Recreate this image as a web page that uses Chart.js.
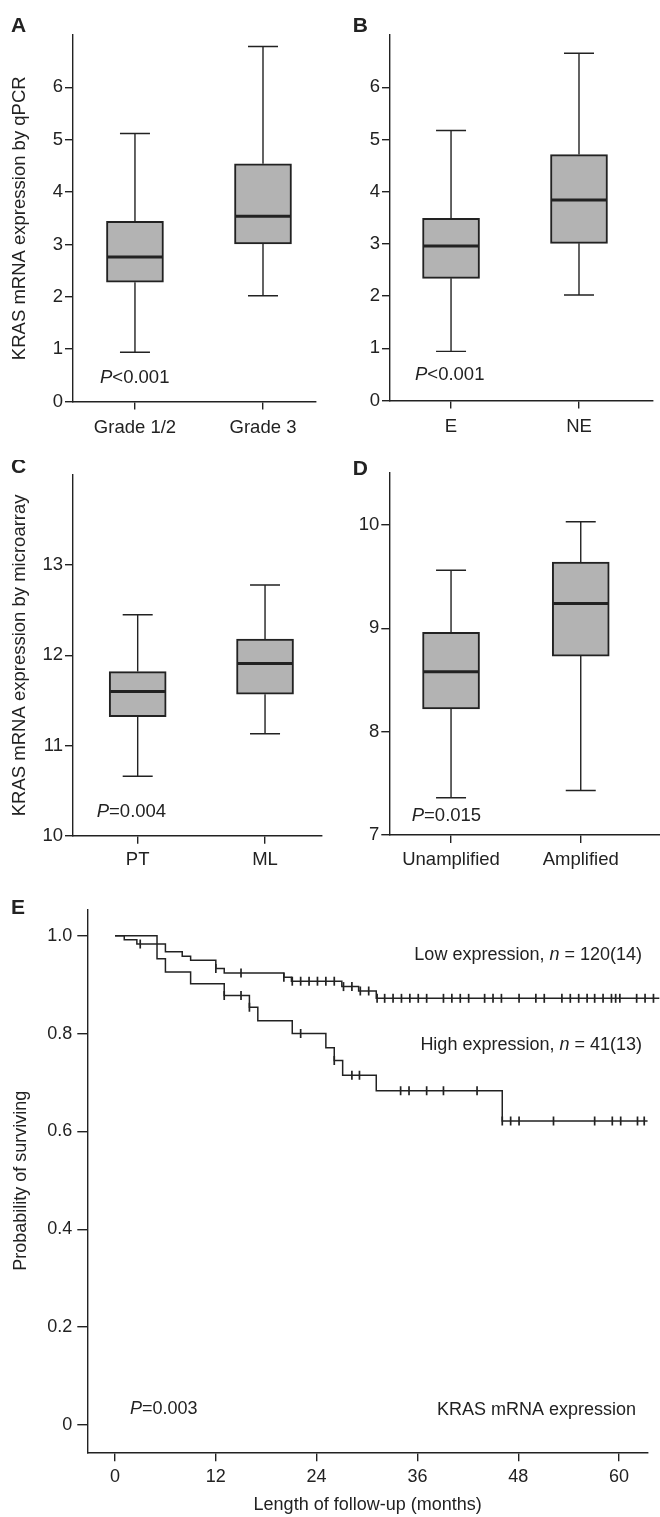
<!DOCTYPE html>
<html>
<head>
<meta charset="utf-8">
<title>KRAS mRNA expression</title>
<script src="https://cdn.jsdelivr.net/npm/chart.js@4.4.1/dist/chart.umd.min.js"></script>
<style>
  body { margin: 0; background: #fff; }
  #page { position: relative; width: 660px; height: 1517px; overflow: hidden; }
  canvas { position: absolute; }
</style>
</head>
<body>
<div id="page">
  <canvas id="chartA" width="330" height="460" style="left:0;top:0"></canvas>
  <canvas id="chartB" width="330" height="460" style="left:330px;top:0"></canvas>
  <canvas id="chartC" width="330" height="420" style="left:0;top:460px"></canvas>
  <canvas id="chartD" width="330" height="420" style="left:330px;top:460px"></canvas>
  <canvas id="chartE" width="660" height="637" style="left:0;top:880px"></canvas>
</div>
<script>
// ---- data ----
// A: qPCR by grade
var gradeCats = ['Grade 1/2', 'Grade 3'];
var gradeLo = [0.94, 2.02];
var gradeQ1 = [2.28, 3.01];
var gradeMed = [2.76, 3.54];
var gradeQ3 = [3.44, 4.54];
var gradeHi = [5.12, 6.78];

// B: qPCR by ER status
var erCats = ['E', 'NE'];
var erLo = [0.94, 2.02];
var erQ1 = [2.34, 3.01];
var erMed = [2.96, 3.84];
var erQ3 = [3.49, 4.71];
var erHi = [5.17, 6.65];

// C: microarray, primary tumour vs metastatic lesion
var siteCats = ['PT', 'ML'];
var siteLo = [10.66, 11.13];
var siteQ1 = [11.32, 11.57];
var siteMed = [11.60, 11.91];
var siteQ3 = [11.82, 12.18];
var siteHi = [12.45, 12.78];

// D: microarray by KRAS amplification
var ampCats = ['Unamplified', 'Amplified'];
var ampLo = [7.36, 7.43];
var ampQ1 = [8.22, 8.73];
var ampMed = [8.58, 9.24];
var ampQ3 = [8.96, 9.64];
var ampHi = [9.56, 10.03];

// E: Kaplan-Meier curves (months, survival)
var lowTimes = [0, 1.1, 2.6, 6.0, 8.0, 9.0, 12.0, 13.0, 20.1, 21.0, 27.0, 29.0, 31.1, 64.8];
var lowSurv = [1.0, 0.992, 0.983, 0.967, 0.958, 0.950, 0.933, 0.924, 0.915, 0.907, 0.896, 0.887, 0.872, 0.872];
var lowCensor = [3.0, 12.0, 15.0, 20.1, 21.1, 22.1, 23.1, 24.1, 25.1, 26.1, 27.2, 28.2, 29.2, 30.2,
  31.2, 32.1, 33.1, 34.1, 35.1, 36.1, 37.1, 39.1, 40.1, 41.1, 42.1, 44.0, 45.0, 46.0, 48.1,
  50.1, 51.1, 53.2, 54.2, 55.2, 56.2, 57.1, 58.1, 59.1, 59.6, 60.1, 62.1, 63.1, 64.1];
var highTimes = [0, 5.0, 6.0, 9.0, 13.0, 16.0, 17.0, 21.1, 25.1, 26.1, 27.1, 31.1, 46.1, 63.4];
var highSurv = [1.0, 0.953, 0.926, 0.902, 0.878, 0.854, 0.826, 0.800, 0.771, 0.745, 0.715, 0.683, 0.621, 0.621];
var highCensor = [13.0, 15.0, 16.0, 22.1, 26.1, 28.2, 29.1, 34.0, 35.0, 37.1, 39.1, 43.1, 46.1,
  47.1, 48.1, 52.2, 57.1, 59.2, 60.2, 62.2, 63.0];
var monthTicks = [0, 12, 24, 36, 48, 60];
var survTicks = [0, 0.2, 0.4, 0.6, 0.8, 1.0];

// ---- drawing ----
var ink = '#222';
var fam = '"Liberation Sans", Arial, Helvetica, sans-serif';
Chart.defaults.font.family = fam;
Chart.defaults.color = ink;

function survAt(times, surv, t) {
  var s = surv[0];
  for (var i = 0; i < times.length; i++) {
    if (times[i] <= t) s = surv[i];
  }
  return s;
}

function drawRuns(ctx, item) {
  var fonts = item.runs.map(function (r) {
    return (r[1] ? 'italic ' : '') + (item.bold ? 'bold ' : '') + item.size + 'px ' + fam;
  });
  var widths = item.runs.map(function (r, i) {
    ctx.font = fonts[i];
    return ctx.measureText(r[0]).width;
  });
  var total = widths.reduce(function (a, b) { return a + b; }, 0);
  var x = item.align === 'right' ? item.x - total : item.x;
  ctx.textAlign = 'left';
  ctx.textBaseline = item.baseline || 'middle';
  ctx.fillStyle = ink;
  item.runs.forEach(function (r, i) {
    ctx.font = fonts[i];
    ctx.fillText(r[0], x, item.y);
    x += widths[i];
  });
}

function textPlugin(list) {
  return {
    id: 'texts',
    afterDraw: function (chart) {
      chart.ctx.save();
      list.forEach(function (item) { drawRuns(chart.ctx, item); });
      chart.ctx.restore();
    }
  };
}

function whiskerPlugin(lo, med, hi, q1, q3, boxW, capW) {
  return {
    id: 'whiskers',
    afterDatasetsDraw: function (chart) {
      var ctx = chart.ctx, xs = chart.scales.x, ys = chart.scales.y;
      ctx.save();
      ctx.strokeStyle = ink;
      ctx.lineCap = 'butt';
      for (var i = 0; i < lo.length; i++) {
        var px = xs.getPixelForValue(i + 1);
        var yLo = ys.getPixelForValue(lo[i]);
        var yHi = ys.getPixelForValue(hi[i]);
        var yQ1 = ys.getPixelForValue(q1[i]);
        var yQ3 = ys.getPixelForValue(q3[i]);
        var yMed = ys.getPixelForValue(med[i]);
        ctx.lineWidth = 1.4;
        ctx.beginPath();
        ctx.moveTo(px, yHi); ctx.lineTo(px, yQ3);
        ctx.moveTo(px, yQ1); ctx.lineTo(px, yLo);
        ctx.moveTo(px - capW / 2, yHi); ctx.lineTo(px + capW / 2, yHi);
        ctx.moveTo(px - capW / 2, yLo); ctx.lineTo(px + capW / 2, yLo);
        ctx.stroke();
        ctx.lineWidth = 3;
        ctx.beginPath();
        ctx.moveTo(px - boxW / 2 + 1, yMed); ctx.lineTo(px + boxW / 2 - 1, yMed);
        ctx.stroke();
      }
      ctx.restore();
    }
  };
}

function axisGrid(len) {
  return { display: true, drawOnChartArea: false, drawTicks: true, tickLength: len, color: ink, lineWidth: 1.4 };
}

function makeBox(id, cats, lo, q1, med, q3, hi, o) {
  var boxes = cats.map(function (c, i) { return { x: i + 1, y: [q1[i], q3[i]] }; });
  return new Chart(document.getElementById(id), {
    type: 'bar',
    data: {
      datasets: [{
        data: boxes,
        backgroundColor: '#b3b3b3',
        borderColor: ink,
        borderWidth: 2,
        borderSkipped: false,
        barThickness: 57
      }]
    },
    options: {
      responsive: false,
      animation: false,
      devicePixelRatio: 1,
      layout: { padding: o.pad },
      plugins: { legend: { display: false }, tooltip: { enabled: false } },
      scales: {
        x: {
          type: 'linear', min: o.xMin, max: o.xMax, offset: false,
          grid: Object.assign(axisGrid(8), { offset: false }),
          border: { display: true, color: ink, width: 1.4 },
          afterBuildTicks: function (s) { s.ticks = cats.map(function (c, i) { return { value: i + 1 }; }); },
          afterFit: function (s) { s.height = o.xH; },
          ticks: {
            padding: o.xPad, font: { size: 18.5 }, color: ink, maxRotation: 0, autoSkip: false,
            callback: function (v) { return cats[Math.round(v) - 1]; }
          }
        },
        y: {
          type: 'linear', min: o.yMin, max: o.yMax,
          grid: axisGrid(8),
          border: { display: true, color: ink, width: 1.4 },
          afterBuildTicks: function (s) { s.ticks = o.yTicks.map(function (v) { return { value: v }; }); },
          afterFit: function (s) { s.width = o.yW; },
          ticks: { padding: 2, font: { size: 18.5 }, color: ink },
          title: {
            display: !!o.title, text: o.title || '', color: ink,
            font: { size: 18.5 }, padding: { top: 9, bottom: 0 }
          }
        }
      }
    },
    plugins: [whiskerPlugin(lo, med, hi, q1, q3, 57, 30), textPlugin(o.texts)]
  });
}

function letter(ch, x, y) {
  return { runs: [[ch, false]], x: x, y: y, size: 21, bold: true, baseline: 'alphabetic' };
}
function pText(op, val, x, y) {
  return { runs: [['P', true], [op + val, false]], x: x, y: y, size: 18.5 };
}

makeBox('chartA', gradeCats, gradeLo, gradeQ1, gradeMed, gradeQ3, gradeHi, {
  pad: { left: 0, right: 14, top: 35, bottom: 0 }, yW: 73, xH: 58.5, xPad: 7,
  xMin: 0.516, xMax: 2.414, yMin: 0, yMax: 7, yTicks: [0, 1, 2, 3, 4, 5, 6],
  title: 'KRAS mRNA expression by qPCR',
  texts: [letter('A', 11, 32), pText('<', '0.001', 100, 378)]
});

makeBox('chartB', erCats, erLo, erQ1, erMed, erQ3, erHi, {
  pad: { left: 0, right: 7.3, top: 35, bottom: 0 }, yW: 60, xH: 59.5, xPad: 7,
  xMin: 0.523, xMax: 2.576, yMin: 0, yMax: 7, yTicks: [0, 1, 2, 3, 4, 5, 6],
  texts: [letter('B', 22.7, 32), pText('<', '0.001', 85, 375)]
});

makeBox('chartC', siteCats, siteLo, siteQ1, siteMed, siteQ3, siteHi, {
  pad: { left: 0, right: 8.3, top: 15, bottom: 0 }, yW: 73, xH: 44.3, xPad: 5,
  xMin: 0.492, xMax: 2.445, yMin: 10, yMax: 14, yTicks: [10, 11, 12, 13],
  title: 'KRAS mRNA expression by microarray',
  texts: [letter('C', 11, 13), pText('=', '0.004', 96.7, 351.7)]
});

makeBox('chartD', ampCats, ampLo, ampQ1, ampMed, ampQ3, ampHi, {
  pad: { left: 0, right: 0, top: 11.7, bottom: 0 }, yW: 59.3, xH: 45, xPad: 6,
  xMin: 0.524, xMax: 2.611, yMin: 7, yMax: 10.5, yTicks: [7, 8, 9, 10],
  texts: [letter('D', 22.7, 15), pText('=', '0.015', 81.7, 356)]
});

function kmPoints(times, surv) {
  return times.map(function (t, i) { return { x: t, y: surv[i] }; });
}
function censorPoints(cens, times, surv) {
  return cens.map(function (t) { return { x: t, y: survAt(times, surv, t) }; });
}

new Chart(document.getElementById('chartE'), {
  type: 'line',
  data: {
    datasets: [
      { label: 'Low expression', data: kmPoints(lowTimes, lowSurv), stepped: true, borderColor: ink, borderWidth: 1.5, pointRadius: 0, clip: false },
      { label: 'High expression', data: kmPoints(highTimes, highSurv), stepped: true, borderColor: ink, borderWidth: 1.5, pointRadius: 0 },
      { label: 'Low censored', data: censorPoints(lowCensor, lowTimes, lowSurv), showLine: false, pointStyle: 'line', rotation: 90, pointRadius: 4.5, pointBorderColor: ink, pointBorderWidth: 1.7, clip: false },
      { label: 'High censored', data: censorPoints(highCensor, highTimes, highSurv), showLine: false, pointStyle: 'line', rotation: 90, pointRadius: 4.5, pointBorderColor: ink, pointBorderWidth: 1.7 }
    ]
  },
  options: {
    responsive: false,
    animation: false,
    devicePixelRatio: 1,
    layout: { padding: { left: 0, right: 12, top: 29.3, bottom: 0 } },
    plugins: { legend: { display: false }, tooltip: { enabled: false } },
    scales: {
      x: {
        type: 'linear', min: -3.3, max: 63.45,
        grid: axisGrid(9),
        border: { display: true, color: ink, width: 1.4 },
        afterBuildTicks: function (s) { s.ticks = monthTicks.map(function (v) { return { value: v }; }); },
        afterFit: function (s) { s.height = 64.7; },
        ticks: { padding: 5, font: { size: 18 }, color: ink, maxRotation: 0 },
        title: { display: true, text: 'Length of follow-up (months)', color: ink, font: { size: 18 }, padding: { top: 0, bottom: 1 } }
      },
      y: {
        type: 'linear', min: -0.056, max: 1.054,
        grid: axisGrid(10),
        border: { display: true, color: ink, width: 1.4 },
        afterBuildTicks: function (s) { s.ticks = survTicks.map(function (v) { return { value: v }; }); },
        afterFit: function (s) { s.width = 87.3; },
        ticks: { padding: 5, font: { size: 18 }, color: ink, callback: function (v) { return v === 0 ? '0' : v.toFixed(1); } },
        title: { display: true, text: 'Probability of surviving', color: ink, font: { size: 18 }, padding: { top: 10, bottom: 0 } }
      }
    }
  },
  plugins: [textPlugin([
    letter('E', 11, 34),
    { runs: [['Low expression, ', false], ['n', true], [' = 120(14)', false]], x: 642, y: 75, size: 18, align: 'right' },
    { runs: [['High expression, ', false], ['n', true], [' = 41(13)', false]], x: 642, y: 165, size: 18, align: 'right' },
    { runs: [['P', true], ['=0.003', false]], x: 130, y: 529.3, size: 18 },
    { runs: [['KRAS mRNA expression', false]], x: 636, y: 530, size: 18, align: 'right' }
  ])]
});
</script>
</body>
</html>
